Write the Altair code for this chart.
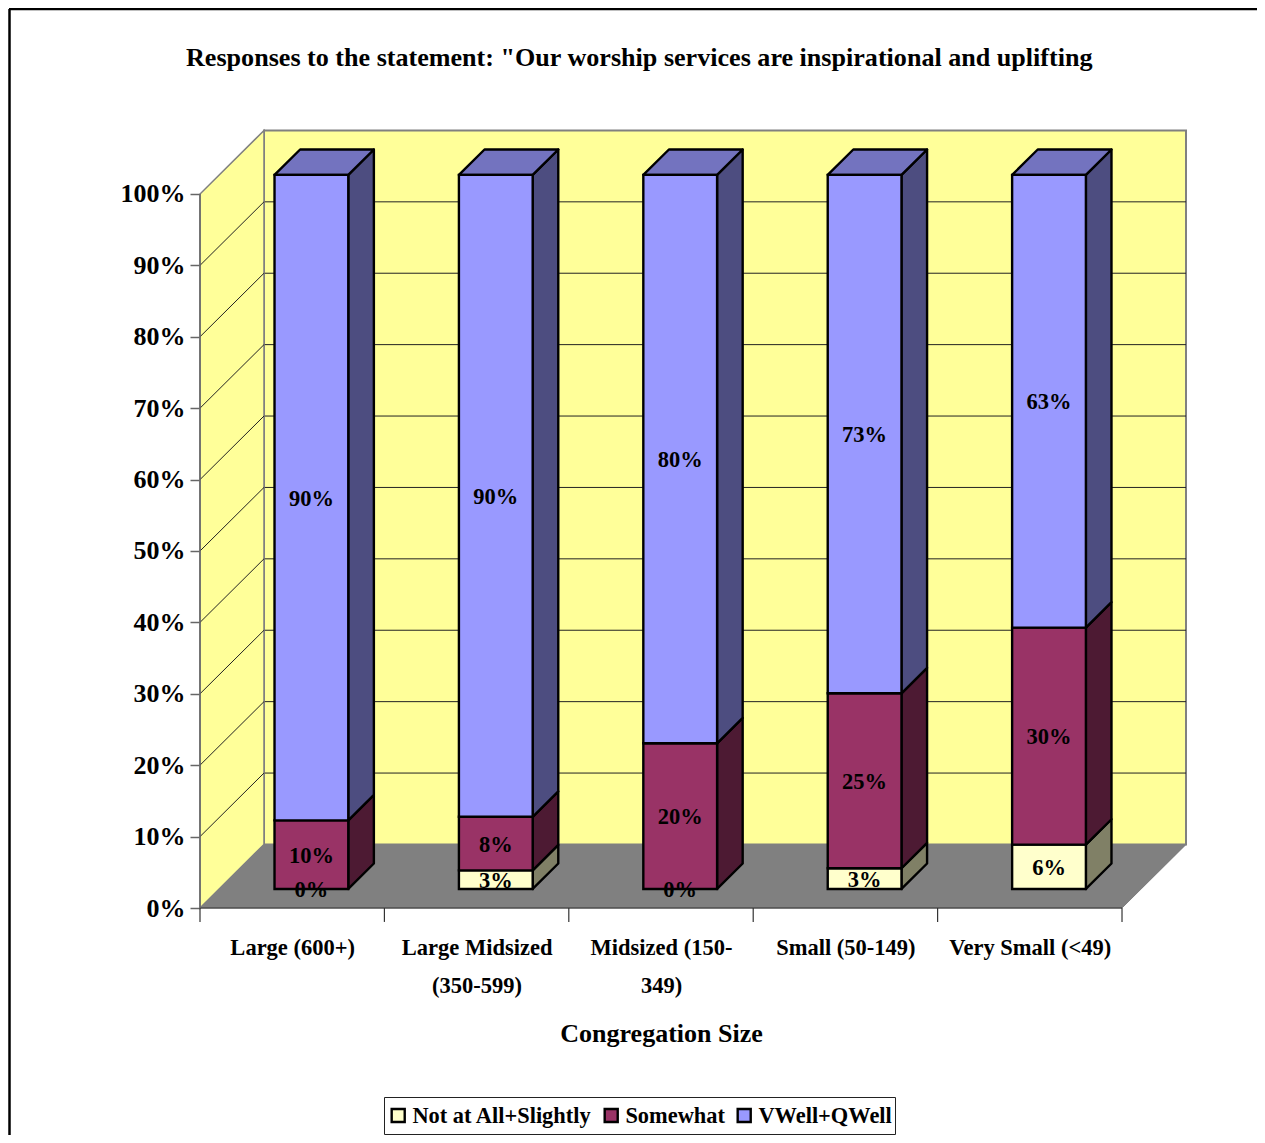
import altair as alt
import pandas as pd

TITLE = 'Responses to the statement: "Our worship services are inspirational and uplifting'
categories = ["Large (600+)", "Large Midsized|(350-599)", "Midsized (150-|349)", "Small (50-149)", "Very Small (<49)"]
series = ["Not at All+Slightly", "Somewhat", "VWell+QWell"]
low = [0.0, 2.6, 0.0, 2.9, 6.2]
mid = [9.6, 7.5, 20.4, 24.5, 30.4]
high = [90.4, 89.9, 79.6, 72.6, 63.4]
front_colors = ["#FFFFCC", "#993366", "#9999FF"]
side_colors = ["#808066", "#4D1A33", "#4D4D80"]
top_color = "#7373BF"
y_ticks = list(range(0, 101, 10))

# projection: depth of the box in axis units
DX, DY = 0.347, 8.9
D1, D2 = 0.30, 0.70
BAR_L, BAR_W = 0.30, 0.40
xs = alt.Scale(domain=[0, 5.347], nice=False, zero=False)
ys = alt.Scale(domain=[0, 108.96], nice=False, zero=False)
FONT = "Liberation Serif"
EDGE = 2.4


def X(f="x", **kw):
    return alt.X(f"{f}:Q", scale=xs, **kw)


def Y(f="y", **kw):
    return alt.Y(f"{f}:Q", scale=ys, **kw)


rows = []
for i in range(len(categories)):
    base = 0.0
    for s, vals in enumerate([low, mid, high]):
        v = vals[i]
        rows.append(dict(ci=i, s=s, series=series[s], v=v, lo=base, hi=base + v))
        base += v
seg = pd.DataFrame(rows)

label_map = "[" + ",".join("split('%s','|')" % c for c in categories) + "]"
x_axis = alt.Axis(
    values=[i + 0.5 for i in range(len(categories))],
    labelExpr=label_map + "[floor(datum.value)]",
    ticks=False, domain=False, grid=False, labelPadding=28, labelFont=FONT, labelFontWeight="bold",
    labelFontSize=22.5, labelColor="black", labelLineHeight=38, labelOverlap=False, labelFlush=False,
    labelLimit=400, labelAngle=0, title="Congregation Size", titleFont=FONT, titleFontWeight="bold",
    titleFontSize=26, titleColor="black", titleX=461, titleY=133, titleAlign="center",
    titleBaseline="alphabetic", titleAnchor="start",
)
y_axis = alt.Axis(
    values=y_ticks, labelExpr="datum.value + '%'", domain=False, grid=False, tickSize=10, tickColor="#666666",
    tickWidth=1.5, labelPadding=5, labelFont=FONT, labelFontWeight="bold", labelFontSize=26, labelColor="black",
    labelFlush=False, labelOverlap=False, title=None,
)

# floor
floor = alt.Chart(pd.DataFrame([dict(y=0, x=0, x2=5), dict(y=DY, x=DX, x2=5 + DX)])).mark_area(
    orient="horizontal", fill="#808080", stroke="#808080", strokeWidth=1
).encode(y=Y(axis=y_axis), x=X(axis=x_axis), x2="x2:Q")

# back wall
back = alt.Chart(pd.DataFrame([dict(x=DX, x2=5 + DX, y=DY, y2=100 + DY)])).mark_rect(
    fill="#FFFF99", stroke="#808080", strokeWidth=2
).encode(x=X(), x2="x2:Q", y=Y(), y2="y2:Q")

# left wall
left = alt.Chart(pd.DataFrame([dict(x=0, y=0, y2=100), dict(x=DX, y=DY, y2=100 + DY)])).mark_area(
    orient="vertical", fill="#FFFF99", stroke="#808080", strokeWidth=1.5
).encode(x=X(), y=Y(), y2="y2:Q")

floor_again = alt.Chart(pd.DataFrame([dict(y=0, x=0, x2=5), dict(y=DY, x=DX, x2=5 + DX)])).mark_area(
    orient="horizontal", fill="#808080"
).encode(y=Y(), x=X(), x2="x2:Q")

grid_df = pd.DataFrame([dict(v=v) for v in y_ticks[1:-1]])
grid_back = alt.Chart(grid_df).transform_calculate(
    x=f"{DX}", x2=f"{5 + DX}", y=f"datum.v + {DY}"
).mark_rule(color="#222222", strokeWidth=1).encode(x=X(), x2="x2:Q", y=Y())
grid_side = alt.Chart(grid_df).transform_calculate(
    x="0", x2=f"{DX}", y="datum.v", y2=f"datum.v + {DY}"
).mark_rule(color="#222222", strokeWidth=1).encode(x=X(), x2="x2:Q", y=Y(), y2="y2:Q")

# axis lines and category ticks
cat_ticks = alt.Chart(pd.DataFrame(dict(x=list(range(6))))).transform_calculate(y="0", y2="-1.95").mark_rule(
    color="#333333", strokeWidth=1.2
).encode(x=X(), y=Y(), y2="y2:Q")
base_line = alt.Chart(pd.DataFrame([dict(x=0, x2=5, y=0)])).mark_rule(color="#333333", strokeWidth=1.2).encode(
    x=X(), x2="x2:Q", y=Y()
)
y_line = alt.Chart(pd.DataFrame([dict(x=0, y=0, y2=100)])).mark_rule(color="#666666", strokeWidth=1.5).encode(
    x=X(), y=Y(), y2="y2:Q"
)

layers = [floor, back, grid_back, left, grid_side, floor_again, cat_ticks, base_line, y_line]

# right-hand side faces, one series at a time
for s in range(3):
    r = []
    for _, d in seg[(seg.s == s) & (seg.v > 0)].iterrows():
        xr = d.ci + BAR_L + BAR_W
        r.append(dict(ci=d.ci, x=xr + D1 * DX, y=d.lo + D1 * DY, y2=d.hi + D1 * DY))
        r.append(dict(ci=d.ci, x=xr + D2 * DX, y=d.lo + D2 * DY, y2=d.hi + D2 * DY))
    layers.append(
        alt.Chart(pd.DataFrame(r)).mark_area(
            orient="vertical", fill=side_colors[s], stroke="black", strokeWidth=EDGE, strokeJoin="round"
        ).encode(x=X(), y=Y(), y2="y2:Q", detail="ci:N")
    )

# top faces
r = []
for _, d in seg[seg.s == 2].iterrows():
    xl = d.ci + BAR_L
    r.append(dict(ci=d.ci, y=d.hi + D1 * DY, x=xl + D1 * DX, x2=xl + BAR_W + D1 * DX))
    r.append(dict(ci=d.ci, y=d.hi + D2 * DY, x=xl + D2 * DX, x2=xl + BAR_W + D2 * DX))
layers.append(
    alt.Chart(pd.DataFrame(r)).mark_area(
        orient="horizontal", fill=top_color, stroke="black", strokeWidth=EDGE, strokeJoin="round"
    ).encode(y=Y(), x=X(), x2="x2:Q", detail="ci:N")
)

# front faces, these carry the legend
fr = seg[seg.v > 0].copy()
fr["x"] = fr.ci + BAR_L + D1 * DX
fr["x2"] = fr.x + BAR_W
fr["y"] = fr.lo + D1 * DY
fr["y2"] = fr.hi + D1 * DY
layers.append(
    alt.Chart(fr).mark_rect(stroke="black", strokeWidth=EDGE).encode(
        x=X(), x2="x2:Q", y=Y(), y2="y2:Q",
        fill=alt.Fill(
            "series:N",
            scale=alt.Scale(domain=series, range=front_colors),
            legend=alt.Legend(
                orient="none", legendX=184, legendY=967, direction="horizontal", columns=3, title=None,
                strokeColor="#222222", padding=3, clipHeight=31, symbolType="square", symbolSize=170,
                symbolStrokeColor="black", symbolStrokeWidth=2.4, labelFont=FONT, labelFontWeight="bold",
                labelFontSize=22.4, labelColor="black", labelLimit=400, columnPadding=8, labelOffset=3,
                symbolOpacity=1,
            ),
        ),
    )
)

# data labels
lab = seg.copy()
lab["x"] = lab.ci + BAR_L + BAR_W / 2 + D1 * DX
lab["y"] = (lab.lo + lab.hi) / 2 + D1 * DY
lab["t"] = [f"{int(v + 0.5)}%" for v in lab.v]
layers.append(
    alt.Chart(lab).mark_text(font=FONT, fontWeight="bold", fontSize=22.5, color="black", baseline="middle", dy=1).encode(
        x=X(), y=Y(), text="t:N"
    )
)

# outer frame (top and left edges of the picture box)
layers.append(alt.Chart(pd.DataFrame(dict(a=[0]))).mark_rule(color="black", strokeWidth=2.5).encode(
    x=alt.value(-190.5), y=alt.value(-121), y2=alt.value(1005)))
layers.append(alt.Chart(pd.DataFrame(dict(a=[0]))).mark_rule(color="black", strokeWidth=2.5).encode(
    x=alt.value(-191), x2=alt.value(1057), y=alt.value(-121)))

chart = alt.layer(*layers).properties(
    width=986, height=778,
    title=alt.TitleParams(TITLE, font=FONT, fontWeight="bold", fontSize=26.1, color="black", anchor="start",
                          frame="group", dx=-14, offset=-63),
    autosize=alt.AutoSizeParams(type="none"),
    padding={"left": 192, "top": 122, "right": 71, "bottom": 227},
).configure_view(stroke=None)

chart.save("out.html", embed_options={"renderer": "svg", "actions": False})
